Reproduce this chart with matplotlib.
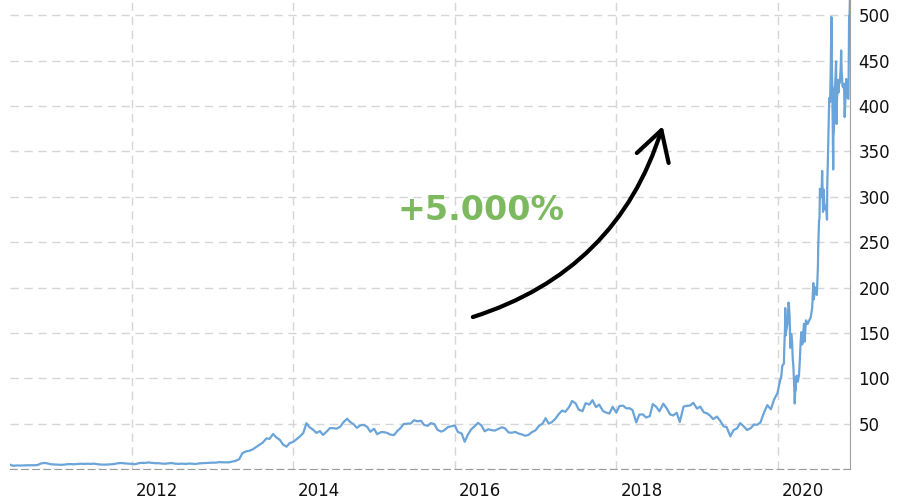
import pandas as pd
import matplotlib.pyplot as plt
from matplotlib.transforms import ScaledTranslation

# share price, split-adjusted
ipo_date = "2010-06-29"
ipo_close = 4.78

p2010 = [4.4, 3.6, 3.9, 3.8, 4.0, 4.1, 4.1, 4.1, 4.4, 6.0, 6.7, 6.2]
p2011 = [5.2, 5.0, 4.8, 4.6, 4.8, 5.3, 5.4, 5.2, 5.6, 5.8, 5.6, 5.8,
         5.6, 5.9, 5.2, 4.9, 4.8, 5.0, 5.2, 5.6, 6.4, 6.6, 6.2, 5.9]
p2012 = [5.7, 5.2, 6.4, 6.8, 6.6, 7.2, 6.8, 6.4, 6.4, 6.0, 5.8, 6.3,
         6.5, 5.9, 5.6, 5.9, 5.6, 6.0, 5.8, 5.5, 6.2, 6.4, 6.6, 6.9]
p2013 = [7.0, 7.0, 7.6, 7.4, 7.4, 7.3, 8.2, 9.0, 10.8, 17.4, 19.5, 20.0,
         21.6, 24.0, 26.8, 29.0, 33.8, 33.2, 38.6, 35.0, 32.0, 27.0, 24.6, 28.5]
p2014 = [30.0, 32.8, 36.2, 39.8, 50.5, 46.0, 43.2, 39.8, 41.8, 37.6, 41.4, 45.0,
         45.0, 44.4, 46.6, 51.4, 55.4, 51.8, 49.2, 45.4, 48.2, 48.6, 46.4, 41.0]
p2015 = [44.4, 38.4, 40.6, 40.6, 39.8, 38.0, 37.4, 41.6, 45.2, 49.6, 50.0, 50.0,
         53.8, 52.6, 53.2, 48.6, 47.6, 50.6, 49.4, 43.2, 41.2, 42.8, 46.2, 47.0]
p2016 = [48.0, 40.8, 39.2, 30.0, 38.2, 43.6, 47.4, 50.8, 48.0, 41.6, 43.8, 42.8,
         42.4, 44.0, 46.0, 44.8, 40.2, 40.0, 40.8, 39.2, 38.0, 36.6, 37.8, 40.6]
p2017 = [42.8, 47.4, 50.0, 56.0, 50.0, 51.6, 55.6, 60.4, 64.4, 63.0, 68.2, 75.0,
         72.2, 65.4, 63.8, 72.6, 71.0, 75.8, 68.2, 71.0, 64.2, 62.2, 61.2, 68.6]
p2018 = [62.2, 69.4, 69.8, 66.8, 67.0, 65.0, 51.4, 60.0, 60.2, 56.8, 58.2, 71.6,
         68.4, 63.6, 72.0, 67.6, 60.2, 59.0, 62.0, 51.8, 68.8, 69.6, 70.0, 73.0]
p2019 = [66.6, 68.8, 62.4, 61.4, 58.8, 55.0, 57.8, 53.4, 47.0, 46.2, 36.0, 42.8,
         44.8, 50.6, 46.8, 43.0, 45.0, 49.0, 48.8, 51.4, 62.8, 70.4, 65.8, 76.2]

dates_2020 = ["2019-12-31", "2020-01-02", "2020-01-10", "2020-01-17", "2020-01-22",
              "2020-01-29", "2020-01-30", "2020-02-03", "2020-02-04", "2020-02-05",
              "2020-02-07", "2020-02-10", "2020-02-14", "2020-02-19", "2020-02-21",
              "2020-02-24", "2020-02-27", "2020-03-02", "2020-03-06", "2020-03-09",
              "2020-03-12", "2020-03-16", "2020-03-18", "2020-03-20", "2020-03-23",
              "2020-03-24", "2020-03-27", "2020-04-01", "2020-04-06", "2020-04-09",
              "2020-04-14", "2020-04-17", "2020-04-21", "2020-04-24", "2020-04-29",
              "2020-05-01", "2020-05-08", "2020-05-15", "2020-05-22", "2020-05-29",
              "2020-06-05", "2020-06-10", "2020-06-12", "2020-06-19", "2020-06-26",
              "2020-07-01", "2020-07-02", "2020-07-06", "2020-07-08", "2020-07-10",
              "2020-07-13", "2020-07-14", "2020-07-17", "2020-07-20", "2020-07-24",
              "2020-07-27", "2020-07-31", "2020-08-07", "2020-08-11", "2020-08-12",
              "2020-08-14", "2020-08-18", "2020-08-21", "2020-08-25", "2020-08-28",
              "2020-08-31", "2020-09-02", "2020-09-04", "2020-09-08", "2020-09-09",
              "2020-09-11", "2020-09-14", "2020-09-17", "2020-09-21", "2020-09-23",
              "2020-09-25", "2020-09-30", "2020-10-02", "2020-10-05", "2020-10-08",
              "2020-10-12", "2020-10-14", "2020-10-16", "2020-10-20", "2020-10-23",
              "2020-10-27", "2020-10-30", "2020-11-04", "2020-11-06", "2020-11-09",
              "2020-11-12", "2020-11-13", "2020-11-16", "2020-11-17", "2020-11-18",
              "2020-11-19", "2020-11-20", "2020-11-23"]
p2020 = [83.7, 86.1, 95.6, 102.1, 114.0,
         116.2, 128.2, 156.0, 177.4, 146.9,
         149.8, 154.3, 160.0, 183.5, 180.0,
         166.8, 133.6, 148.7, 140.7, 121.6,
         112.6, 89.0, 72.2, 85.5, 86.9,
         101.0, 102.9, 96.3, 103.2, 115.0,
         141.0, 150.8, 137.3, 145.0, 160.1,
         140.3, 163.9, 159.8, 163.4, 167.0,
         177.6, 205.0, 187.1, 200.2, 191.9,
         223.9, 241.7, 274.3, 276.0, 308.9,
         299.4, 303.4, 300.2, 328.6, 283.4,
         307.9, 286.2, 290.5, 274.9, 310.9,
         330.1, 377.4, 409.0, 404.7, 442.7,
         498.3, 447.4, 418.3, 330.2, 366.3,
         372.7, 419.6, 423.4, 449.4, 380.4,
         407.3, 429.0, 415.1, 425.7, 425.9,
         442.3, 461.3, 439.7, 421.9, 420.6,
         424.7, 388.0, 420.3, 429.9, 421.3,
         411.8, 408.5, 408.1, 441.6, 486.6,
         499.3, 489.6, 521.9]

year_ticks = ["2012", "2014", "2016", "2018", "2020"]
y_ticks = [0, 50, 100, 150, 200, 250, 300, 350, 400, 450, 500]
note = "+5.000%"

semi_dates = pd.date_range("2010-07-01", "2019-12-15", freq="SMS")
semi_values = p2010 + p2011 + p2012 + p2013 + p2014 + p2015 + p2016 + p2017 + p2018 + p2019
assert len(semi_dates) == len(semi_values)
assert len(dates_2020) == len(p2020)

dates = [pd.Timestamp(ipo_date)] + list(semi_dates) + list(pd.to_datetime(dates_2020))
values = [ipo_close] + semi_values + p2020

fig = plt.figure(figsize=(9, 5.04), dpi=100)
ax = fig.add_axes([10 / 900, 35 / 504, 840 / 900, 469 / 504])

ax.plot(dates, values, color="#6aa4d8", linewidth=1.6)

ax.set_xlim(pd.Timestamp(ipo_date), pd.Timestamp(dates_2020[-1]))
ax.set_ylim(0, 517)

ax.set_xticks([pd.Timestamp(y + "-01-01") for y in year_ticks])
ax.set_xticklabels(year_ticks)
ax.set_yticks(y_ticks)
ax.set_yticklabels(["" if v == 0 else str(v) for v in y_ticks])

ax.grid(True, color="#d6d6d6", linestyle=(0, (6, 4)), linewidth=1)
ax.set_axisbelow(True)

ax.tick_params(axis="x", length=0, pad=9, labelsize=12, labelcolor="#111111")
ax.tick_params(axis="y", length=0, pad=6, labelsize=12, labelcolor="#111111",
               left=False, labelleft=False, right=True, labelright=True)
for lbl in ax.get_xticklabels():
    lbl.set_horizontalalignment("left")
    lbl.set_transform(lbl.get_transform() + ScaledTranslation(3 / 72, 0, fig.dpi_scale_trans))

ax.spines["top"].set_visible(False)
ax.spines["left"].set_visible(False)
ax.spines["right"].set_color("#a0a0a0")
ax.spines["bottom"].set_color("#9a9a9a")
ax.spines["bottom"].set_linestyle((0, (6, 4)))

ax.text(0.561, 0.552, note, transform=ax.transAxes, ha="center", va="center",
        fontsize=24, fontweight="bold", color="#7dba5f")
ax.annotate("", xy=(0.777, 0.731), xytext=(0.551, 0.324),
            xycoords="axes fraction", textcoords="axes fraction",
            arrowprops=dict(arrowstyle="->,head_length=0.42,head_width=0.24",
                            connectionstyle="arc3,rad=0.26", color="black",
                            lw=3, shrinkA=0, shrinkB=0, mutation_scale=50))

fig.savefig("out.png", dpi=100)
